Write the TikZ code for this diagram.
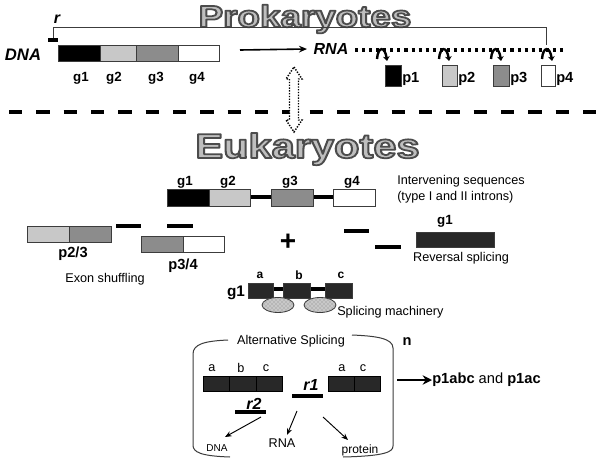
\documentclass[tikz,border=0pt]{standalone}
\usepackage{fontspec}
\setmainfont{Liberation Sans}
\usetikzlibrary{arrows.meta,patterns}
\definecolor{lg}{HTML}{C8C8C8}
\definecolor{mg}{HTML}{8C8C8C}
\definecolor{dk}{HTML}{282828}
\definecolor{outl}{HTML}{3C3C3C}
\definecolor{tfill}{HTML}{BEBEBE}
\newcommand{\outlinedtitle}[5]{% name, x, y, size, text
  \node[anchor=base, inner sep=0pt, text=tfill, font=\bfseries\fontsize{#4}{#4}\selectfont] (#1) at (#2,#3)
   {\special{pdf:literal direct 0.3 0.3 0.3 RG 2 Tr 1.3 w 1 j}\scalebox{1.2}[1]{#5}\special{pdf:literal direct 0 Tr}};}
\begin{document}
\begin{tikzpicture}[x=0.75pt,y=-0.75pt]
\useasboundingbox[fill=white] (0,0) rectangle (596,460);
\tikzset{
  gbox/.style={draw=outl, line width=0.6pt},
  lbl/.style={inner sep=0pt, font=\bfseries\fontsize{10}{12}\selectfont},
  plbl/.style={inner sep=0pt, anchor=west, font=\bfseries\fontsize{11}{13}\selectfont},
  txt/.style={inner sep=0pt, font=\fontsize{9.5}{11.5}\selectfont},
  bi/.style={inner sep=0pt, font=\bfseries\itshape\fontsize{12}{14}\selectfont},
  bar/.style={line width=2.6pt},
  curl/.style={line width=1.8pt, -{Stealth[length=3.5pt,width=5pt]}},
  thinarrow/.style={line width=0.7pt, -{Stealth[length=5pt,width=4pt]}},
}
% ---------------- Prokaryotes ----------------
\outlinedtitle{prok}{305}{27}{23}{Prokaryotes}
\coordinate (rbot) at (53,38);
\coordinate (ltop) at (53,28);
\coordinate (rtop) at (546,28);
\coordinate (p4in) at (546,45);
\draw[draw=outl, line width=0.75pt] (rbot) -- (ltop) -- (rtop) -- (p4in);
\draw[bar] (48,40) -- (58,40);
\node[bi] (r) at (57,19) {r};
\node[bi, font=\bfseries\itshape\fontsize{12.5}{14}\selectfont] (dna) at (23,55) {DNA};
\draw[gbox, fill=black] (58,45) rectangle (100,61);
\draw[gbox, fill=lg] (100,45) rectangle (136,61);
\draw[gbox, fill=mg] (136,45) rectangle (178,61);
\draw[gbox, fill=white] (178,45) rectangle (219,61);
\node[lbl] (pg1) at (81,78) {g1};
\node[lbl] (pg2) at (114,78) {g2};
\node[lbl] (pg3) at (156,78) {g3};
\node[lbl] (pg4) at (197,78) {g4};
\node[bi] (rna) at (331,49) {RNA};
\coordinate (tx) at (240,50);
\draw[line width=1.2pt, -{Stealth[length=6pt,width=5pt]}] (tx) -- (rna.west -| 307,0);
\coordinate (dotA) at (355,50);
\coordinate (dotB) at (566,50);
\draw[line width=2.3pt, dash pattern=on 2.3pt off 3pt] (dotA) -- (dotB);
\foreach \cx in {382,444,496,547}{
  \draw[curl] (\cx-5,59) .. controls (\cx-4,46) and (\cx+3,46) .. (\cx+5,61);
}
\draw[gbox, fill=black] (385,65) rectangle (401,86);
\draw[gbox, fill=lg] (442,65) rectangle (457,86);
\draw[gbox, fill=mg] (493,65) rectangle (509,86);
\draw[gbox, fill=white] (541,65) rectangle (555,86);
\node[plbl] (p1) at (402,79) {p1};
\node[plbl] (p2) at (458,79) {p2};
\node[plbl] (p3) at (510,79) {p3};
\node[plbl] (p4) at (556,79) {p4};
% separator
\draw[line width=3.6pt, dash pattern=on 10pt off 10.5pt] (9,112) -- (596,112);
% dotted double arrow
\draw[fill=white, line width=1.1pt, dash pattern=on 1pt off 1.1pt]
  (294,67) -- (302,79) -- (298.5,79) -- (298.5,120) -- (302,120) -- (294,132)
  -- (286,120) -- (289.5,120) -- (289.5,79) -- (286,79) -- cycle;
% ---------------- Eukaryotes ----------------
\outlinedtitle{euk}{307.5}{158}{26}{Eukaryotes}
\draw[line width=2.4pt] (250,197) -- (271,197);
\draw[line width=2.4pt] (313,197) -- (333,197);
\draw[gbox, fill=black] (167,189) rectangle (209,206);
\draw[gbox, fill=lg] (209,189) rectangle (250,206);
\draw[gbox, fill=mg] (271,189) rectangle (313,206);
\draw[gbox, fill=white] (333,189) rectangle (375,206);
\node[lbl] (eg1) at (185,182) {g1};
\node[lbl] (eg2) at (228,182) {g2};
\node[lbl] (eg3) at (290,182) {g3};
\node[lbl] (eg4) at (352,182) {g4};
\node[txt, anchor=west] (iv1) at (397,181) {Intervening sequences};
\node[txt, anchor=west] (iv2) at (397,197) {(type I and II introns)};
% exon shuffling
\draw[gbox, fill=lg] (27,226) rectangle (69,242);
\draw[gbox, fill=mg] (69,226) rectangle (111,242);
\node[lbl, font=\bfseries\fontsize{11}{13}\selectfont] (p23) at (73,254) {p2/3};
\draw[bar] (116,226) -- (141,226);
\draw[bar] (167,226) -- (193,226);
\draw[gbox, fill=mg] (141,236) rectangle (183,252);
\draw[gbox, fill=white] (183,236) rectangle (224,252);
\node[lbl, font=\bfseries\fontsize{11}{13}\selectfont] (p34) at (183,266) {p3/4};
\node[txt] (exsh) at (105,279) {Exon shuffling};
\node[inner sep=0pt, font=\bfseries\fontsize{21}{21}\selectfont] (plus) at (288,242) {+};
% reversal splicing
\draw[bar] (344,231) -- (369,231);
\draw[bar] (375,247) -- (401,247);
\draw[gbox, fill=dk] (416,232) rectangle (494,247);
\node[lbl] (rg1) at (445,221) {g1};
\node[txt] (revs) at (461,258) {Reversal splicing};
% splicing machinery
\draw[line width=3pt] (273,289) -- (283,289);
\draw[line width=3pt] (310,289) -- (325,289);
\draw[gbox, fill=dk] (248,283) rectangle (273,298);
\draw[gbox, fill=dk] (283,283) rectangle (310,298);
\draw[gbox, fill=dk] (325,283) rectangle (352,298);
\node[lbl, font=\bfseries\fontsize{9}{11}\selectfont] (sa) at (260,275) {a};
\node[lbl, font=\bfseries\fontsize{9}{11}\selectfont] (sb) at (299,275) {b};
\node[lbl, font=\bfseries\fontsize{9}{11}\selectfont] (sc) at (341,275) {c};
\node[lbl, font=\bfseries\fontsize{11.5}{13}\selectfont] (sg1) at (236,293) {g1};
\foreach \ex in {278,320}{
  \fill[lg] (\ex,305) ellipse [x radius=16, y radius=7.5];
  \fill[pattern=crosshatch dots, pattern color=gray] (\ex,305) ellipse [x radius=16, y radius=7.5];
  \draw[draw=outl, line width=0.6pt] (\ex,305) ellipse [x radius=16, y radius=7.5];
}
\node[txt, anchor=west] (smach) at (337,312) {Splicing machinery};
% alternative splicing bracket
\draw[draw=outl, line width=0.75pt] (228,340) .. controls (205,341) and (193,344) .. (193,354) -- (193,445) .. controls (193,452) and (200,456) .. (230,457);
\draw[draw=outl, line width=0.75pt] (352,335) .. controls (375,336) and (393,338) .. (393,348) -- (393,446) .. controls (393,452) and (385,456) .. (343,457);
\node[txt] (alts) at (291,341) {Alternative Splicing};
\node[lbl, font=\bfseries\fontsize{11}{13}\selectfont] (n) at (407,342) {n};
\foreach \xa/\xb in {203/229,229/256,256/282,328/354,354/380}{
  \draw[draw=black, fill=dk, line width=0.6pt] (\xa,376) rectangle (\xb,391);
}
\node[txt] (ia) at (212,368) {a};
\node[txt] (ib) at (241,368) {b};
\node[txt] (ic) at (266,368) {c};
\node[txt] (ja) at (342,368) {a};
\node[txt] (jc) at (363,368) {c};
\node[bi] (r1) at (311,385) {r1};
\draw[bar] (292,396) -- (323,396);
\node[bi] (r2) at (254,404) {r2};
\draw[bar] (235,412) -- (266,412);
\node[inner sep=0pt, font=\fontsize{7.5}{9}\selectfont] (sdna) at (217,448) {DNA};
\node[inner sep=0pt, font=\fontsize{9.5}{11}\selectfont] (srna) at (282,443) {RNA};
\node[inner sep=0pt, font=\fontsize{9}{11}\selectfont] (sprot) at (360,450) {protein};
\coordinate (a1s) at (261,417);
\coordinate (a1e) at (225,437);
\coordinate (a2s) at (297,411);
\coordinate (a2e) at (287,435);
\coordinate (a3s) at (323,417);
\coordinate (a3e) at (348,440);
\draw[thinarrow] (a1s) -- (a1e);
\draw[thinarrow] (a2s) -- (a2e);
\draw[thinarrow] (a3s) -- (a3e);
\node[inner sep=0pt, anchor=west, font=\fontsize{11}{13}\selectfont] (res) at (432,380) {\textbf{p1abc} and \textbf{p1ac}};
\coordinate (outs) at (397,380);
\draw[line width=2pt, -{Stealth[length=7pt,width=7pt]}] (outs) -- (res.west);
\end{tikzpicture}
\end{document}
